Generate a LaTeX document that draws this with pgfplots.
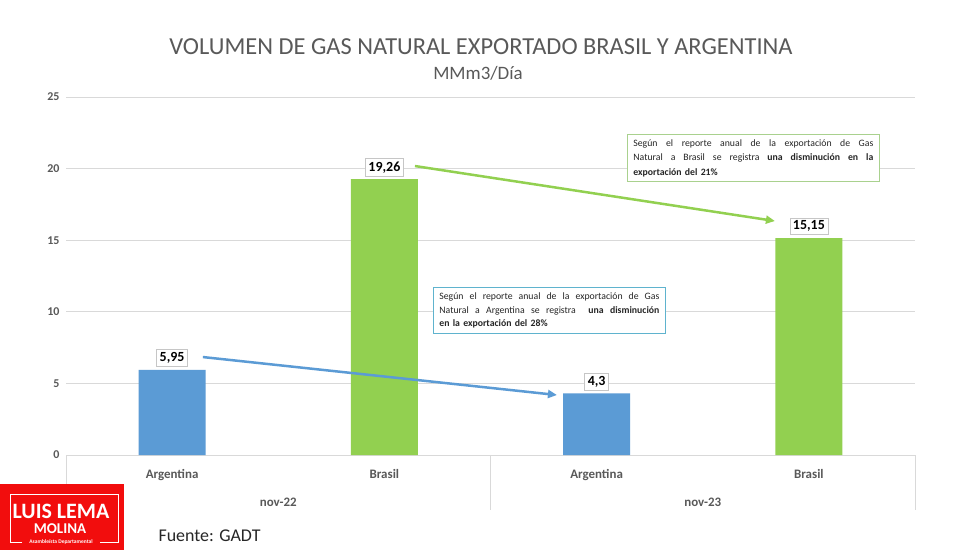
\documentclass[border=0pt]{standalone}
\usepackage{pgfplots}
\pgfplotsset{compat=1.18}
\usepackage{fontspec}
\setmainfont{Carlito}
\usetikzlibrary{arrows.meta}
\definecolor{argblue}{HTML}{5B9BD5}
\definecolor{bragreen}{HTML}{92D050}
\definecolor{txtgray}{HTML}{595959}
\definecolor{gridgray}{HTML}{D9D9D9}
\definecolor{boxgreen}{HTML}{A9D18E}
\definecolor{boxblue}{HTML}{5FB3CE}
\definecolor{logored}{HTML}{F20D0D}
\newcommand\fsz[2]{\fontsize{#1}{#2}\selectfont}
% a line set to a fixed width, its word spaces stretched to fill it
\newcommand\just[2]{\leavevmode\hbox to #1{\spaceskip=0.22em plus 1fil\relax\xspaceskip=0.3em plus 1fil\relax #2}}

\begin{document}
\begin{tikzpicture}
\path[use as bounding box] (0,0) rectangle (980bp,-550bp);
\fill[white] (0,0) rectangle (980bp,-550bp);
\begin{axis}[
  at={(66bp,-455bp)}, anchor=south west,
  width=849bp, height=358bp, scale only axis,
  xmin=-0.5, xmax=3.5, ymin=0, ymax=25,
  ytick={0,5,...,25},
  xtick={0,1,2,3},
  xticklabels={Argentina,Brasil,Argentina,Brasil},
  axis line style={draw=none},
  major tick length=0pt,
  ymajorgrids, grid style={gridgray, line width=0.8bp},
  tick label style={font=\bfseries\fsz{12}{14}, text=txtgray},
  x tick label style={font=\bfseries\fsz{13}{15}, yshift=-11bp},
  y tick label style={xshift=-3bp},
  /pgf/number format/assume math mode=true,
  /pgf/number format/use comma,
  ybar, bar width=0.316,
  clip=false,
  nodes near coords,
  nodes near coords style={draw=gray!45, fill=white, text=black,
    font=\bfseries\fsz{14}{16}, inner sep=3bp, yshift=3bp, line width=0.6bp},
]
% Argentina
\addplot[fill=argblue, draw=none, bar shift=0pt] coordinates {(0,5.95) (2,4.3)};
% Brasil
\addplot[fill=bragreen, draw=none, bar shift=0pt] coordinates {(1,19.26) (3,15.15)};

% category group separators and labels
\draw[gridgray, line width=0.8bp] (axis cs:-0.5,0) -- ([yshift=-55bp]axis cs:-0.5,0);
\draw[gridgray, line width=0.8bp] (axis cs:1.5,0) -- ([yshift=-55bp]axis cs:1.5,0);
\draw[gridgray, line width=0.8bp] (axis cs:3.5,0) -- ([yshift=-55bp]axis cs:3.5,0);
\node[font=\bfseries\fsz{13}{15}, text=txtgray] at ([yshift=-47bp]axis cs:0.5,0) {nov-22};
\node[font=\bfseries\fsz{13}{15}, text=txtgray] at ([yshift=-47bp]axis cs:2.5,0) {nov-23};

% trend arrows
\draw[argblue, line width=2.5bp, -{Triangle[length=9bp,width=8bp]}]
  (axis cs:0.145,6.84) -- (axis cs:1.813,4.19);
\draw[bragreen, line width=2.5bp, -{Triangle[length=9bp,width=8bp]}]
  (axis cs:1.144,20.18) -- (axis cs:2.84,16.34);
\end{axis}

\begin{scope}[x=1bp,y=-1bp]
% titles
\node[text=txtgray, font=\fsz{24.5}{28}] at (481,47)
  {VOLUMEN DE GAS NATURAL EXPORTADO BRASIL Y ARGENTINA};
\node[text=txtgray, font=\fsz{19}{22}] at (478,73) {MMm3/Día};

% notes
\node[draw=boxgreen, line width=0.8bp, fill=white, anchor=north west,
  inner xsep=6bp, inner ysep=5bp, text width=240bp, align=left,
  font=\fsz{9.8}{14.5}, text=black!85] at (627,134)
  {\just{240bp}{Según el reporte anual de la exportación de Gas}\\
   \just{240bp}{Natural a Brasil se registra \textbf{una disminución en la}}\\
   \textbf{exportación del 21\%}};
\node[draw=boxblue, line width=0.8bp, fill=white, anchor=north west,
  inner xsep=6bp, inner ysep=5.5bp, text width=220bp, align=left,
  font=\fsz{9.8}{13.5}, text=black!85] at (433,287)
  {\just{220bp}{Según el reporte anual de la exportación de Gas}\\
   \just{220bp}{Natural a Argentina se registra \ \textbf{una disminución}}\\
   \textbf{en la exportación del 28\%}};

% logo
\fill[logored] (0,484) rectangle (124,550);
\draw[white, line width=0.8bp] (22,542) -- (10,542) -- (10,494) -- (118,494) -- (118,542) -- (100,542);
\node[white, font=\bfseries\fsz{22}{24}, inner sep=0, anchor=base] at (61,518) {LUIS LEMA};
\node[white, font=\bfseries\fsz{15}{16}, inner sep=0, anchor=base] at (60,533) {MOLINA};
\node[white, font=\bfseries\fsz{5.5}{6}, inner sep=0] at (61,542) {Asambleísta Departamental};

% source
\node[anchor=west, font=\fsz{18}{20}, text=black!85] at (155,536) {Fuente: GADT};
\end{scope}
\end{tikzpicture}
\end{document}
